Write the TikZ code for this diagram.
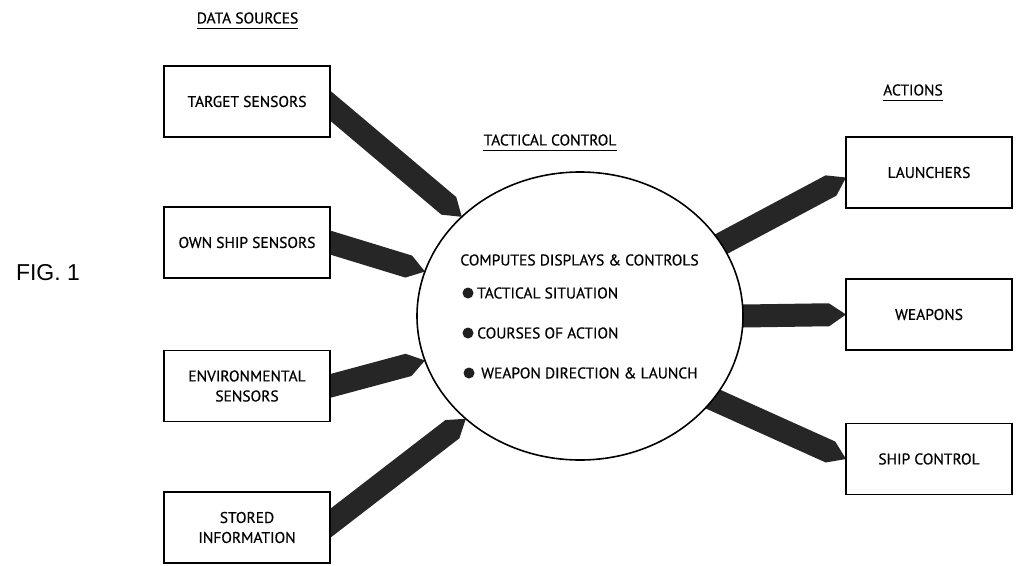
\documentclass[tikz,border=0pt]{standalone}
\usepackage{fontspec}
\newfontfamily\lblfont[FakeBold=0.5]{PT Sans}
\newfontfamily\figfont{Liberation Sans}
\usetikzlibrary{shapes.geometric,calc,backgrounds}

\tikzset{
  box/.style={draw, line width=1.5pt, fill=white, minimum width=166pt,
    minimum height=71pt, inner sep=0pt, outer sep=0pt, align=center,
    font=\lblfont\fontsize{15.5}{20}\selectfont},
  hdr/.style={inner sep=0pt, font=\lblfont\fontsize{15.5}{18}\selectfont},
  uline/.style={line width=1.2pt},
  itemtext/.style={anchor=west, inner sep=0pt, font=\lblfont\fontsize{15.5}{18}\selectfont},
  dot/.style={circle, fill=black!88, minimum size=11pt, inner sep=0pt},
  barfill/.style={fill=black!85},
}

% thick bar with a pointed tip: #1 = base point, #2 = tip point
\newcommand\pencil[2]{%
  \coordinate (pb) at ($#1!-16pt!#2$);
  \coordinate (pk) at ($#2!17pt!#1$);
  \fill[barfill] ($(pb)!11.5pt!90:#2$) -- ($(pk)!11.5pt!90:#2$) -- #2
    -- ($(pk)!11.5pt!-90:#2$) -- ($(pb)!11.5pt!-90:#2$) -- cycle;
}

\begin{document}
\begin{tikzpicture}[x=1pt, y=-1pt]
  \useasboundingbox (0,0) rectangle (1020,565);

  % headings
  \node[hdr] (ds) at (247.5,18) {DATA SOURCES};
  \draw[uline] ([yshift=-5pt]ds.base west) -- ([yshift=-5pt]ds.base east);
  \node[hdr] (tch) at (550,140) {TACTICAL CONTROL};
  \draw[uline] ([yshift=-5pt]tch.base west) -- ([yshift=-5pt]tch.base east);
  \node[hdr] (act) at (913,90) {ACTIONS};
  \draw[uline] ([yshift=-5pt]act.base west) -- ([yshift=-5pt]act.base east);

  \node[inner sep=0pt, font=\figfont\fontsize{23}{25}\selectfont] (fig) at (48,273) {FIG. 1};

  % data sources
  \node[box] (ts) at (247,101.5) {TARGET SENSORS};
  \node[box] (ow) at (247,242.5) {OWN SHIP SENSORS};
  \node[box] (en) at (247,386) {ENVIRONMENTAL\\SENSORS};
  \node[box] (si) at (247,527.5) {STORED\\INFORMATION};

  % actions
  \node[box] (ln) at (929,172.5) {LAUNCHERS};
  \node[box] (we) at (929,314.5) {WEAPONS};
  \node[box] (sc) at (929,459) {SHIP CONTROL};

  % tactical control
  \node[draw, ellipse, line width=1.6pt, fill=white, minimum width=326pt,
    minimum height=288pt, inner sep=0pt, outer sep=0pt] (tc) at (580,316) {};
  \node[hdr] (cdc) at (579.5,260) {COMPUTES DISPLAYS \& CONTROLS};
  \node[dot] (d1) at (468,293) {};
  \node[itemtext] (i1) at (477,293) {TACTICAL SITUATION};
  \node[dot] (d2) at (468,333) {};
  \node[itemtext] (i2) at (477,333) {COURSES OF ACTION};
  \node[dot] (d3) at (469,373) {};
  \node[itemtext] (i3) at (481,373) {WEAPON DIRECTION \& LAUNCH};

  % data flow bars, behind the boxes and the ellipse
  \begin{scope}[on background layer]
    \fill[white] (0,0) rectangle (1020,565);
    \pencil{([yshift=-4pt]ts.east)}{(tc.140)}
    \pencil{(ow.east)}{(tc.164)}
    \pencil{(en.east)}{(tc.196)}
    \pencil{([yshift=4pt]si.east)}{(tc.222)}
    \pencil{(tc.27.5)}{([yshift=-5pt]ln.west)}
    \pencil{(tc.0)}{(we.west)}
    \pencil{(tc.-32)}{(sc.west)}
  \end{scope}
\end{tikzpicture}
\end{document}
